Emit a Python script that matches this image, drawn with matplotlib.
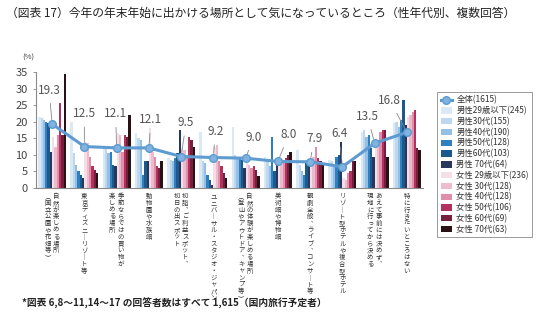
import matplotlib
matplotlib.use("Agg")
import matplotlib.pyplot as plt
import numpy as np

plt.rcParams['font.family'] = ['Noto Sans CJK JP', 'DejaVu Sans']

# Data (%)
categories = [
    ["自然が楽しめる場所", "（国立公園や花畑等）"],
    ["東京ディズニーリゾート等"],
    ["季節ならではの買い物が", "楽しめる場所"],
    ["動物園や水族館"],
    ["初詣、ご利益スポット、", "初日の出スポット"],
    ["ユニバーサル・スタジオ・ジャパン"],
    ["自然の体験が楽しめる場所", "（登山やアウトドア、キャンプ等）"],
    ["美術館や博物館"],
    ["観劇全般、ライブ、コンサート等"],
    ["リゾート型ホテルや複合型ホテル"],
    ["あえて事前には決めず、", "現地に行ってから決める"],
    ["特に行きたいところはない"],
]

total = [19.3, 12.5, 12.1, 12.1, 9.5, 9.2, 9.0, 8.0, 7.9, 6.4, 13.5, 16.8]
total_label = "全体(1615)"

series_labels = [
    "男性29歳以下(245)", "男性30代(155)", "男性40代(190)", "男性50代(128)",
    "男性60代(103)", "男性 70代(64)", "女性 29歳以下(236)", "女性 30代(128)",
    "女性 40代(128)", "女性 50代(106)", "女性 60代(69)", "女性 70代(63)",
]

m29 = [21.5, 20.0, 12.5, 16.5, 9.0, 17.0, 18.5, 9.5, 11.5, 8.5, 17.0, 19.5]
m30 = [21.0, 10.5, 12.0, 15.0, 8.5, 8.0, 10.0, 8.0, 7.0, 8.0, 17.5, 20.0]
m40 = [20.5, 7.0, 10.5, 14.5, 8.0, 7.5, 9.5, 6.5, 5.0, 7.0, 15.5, 18.5]
m50 = [20.0, 5.0, 11.0, 4.0, 9.0, 4.0, 9.0, 15.5, 4.0, 9.5, 16.0, 20.5]
m60 = [19.5, 4.0, 7.0, 8.0, 10.5, 2.5, 8.5, 5.0, 7.5, 10.0, 12.0, 26.5]
m70 = [11.0, 3.0, 6.5, 8.0, 17.5, 1.0, 6.0, 8.5, 8.0, 14.0, 9.5, 19.0]
f29 = [15.5, 14.0, 16.5, 18.0, 12.0, 12.5, 7.5, 7.0, 7.0, 3.0, 12.0, 21.5]
f30 = [12.5, 13.5, 16.0, 11.0, 11.5, 13.0, 7.0, 7.5, 9.5, 2.5, 12.5, 22.0]
f40 = [16.0, 9.5, 11.0, 9.5, 9.5, 8.0, 6.0, 8.0, 12.5, 4.5, 17.0, 23.0]
f50 = [25.5, 6.5, 16.0, 6.5, 15.5, 6.5, 6.5, 9.0, 9.0, 5.0, 17.5, 23.5]
f60 = [16.0, 5.5, 15.5, 6.0, 14.5, 4.5, 5.5, 10.0, 8.0, 8.0, 17.5, 12.0]
f70 = [34.5, 4.5, 22.0, 8.0, 12.5, 3.0, 3.5, 11.0, 7.5, 8.0, 9.5, 11.5]

series = [m29, m30, m40, m50, m60, m70, f29, f30, f40, f50, f60, f70]

colors = [
    "#dbe9f6", "#bcd7ee", "#93c0e4", "#2f7fc1", "#1c5a8c", "#27385e",
    "#f6dde6", "#ecbccc", "#df8fab", "#b5315d", "#74203c", "#2a1116",
]

# label offsets (px) for the total values: (dx, dy)
label_offsets = [(-3, 34), (0, 33), (-1, 34), (2, 28), (5, 34), (2, 26),
                 (8, 21), (11, 27), (4, 23), (-3, 33), (-7, 27), (-17, 32)]

PX = 72 / 100  # px -> points at dpi 100
VERT = {'ー': '｜', '（': '︵', '）': '︶', '、': '︑'}


def to_vertical(text):
    return "\n".join(VERT.get(ch, ch) for ch in text)


fig = plt.figure(figsize=(5.36, 3.26), dpi=100)
ax = fig.add_axes([36 / 536, 1 - 188 / 326, 387 / 536, 116 / 326])

x = np.arange(len(total))
w = 0.072
bars = []
for j, (vals, col, lab) in enumerate(zip(series, colors, series_labels)):
    b = ax.bar(x + (j - 5.5) * w, vals, width=w, color=col, label=lab, zorder=2)
    bars.append(b)

line, = ax.plot(x, total, color="#5d9bd0", lw=2.2, marker="o", markersize=5.5,
                markerfacecolor="#80b3df", markeredgecolor="#5d9bd0", label=total_label, zorder=4)

for i, v in enumerate(total):
    dx, dy = label_offsets[i]
    ax.annotate(f"{v}", xy=(i, v), xytext=(dx * PX, dy * PX), textcoords="offset points",
                ha="center", va="center", fontsize=8.5, color="#555555",
                arrowprops=dict(arrowstyle="-", color="#888888", lw=0.6, shrinkA=3, shrinkB=3),
                zorder=5)

# vertical (tategaki) category labels, one text per column
for i, cols in enumerate(categories):
    col_dx = [0] if len(cols) == 1 else [4, -4.5]
    for text, cdx in zip(cols, col_dx):
        ax.annotate(to_vertical(text), xy=(i, 0), xytext=(cdx * PX, -4 * PX),
                    textcoords="offset points", ha="center", va="top",
                    multialignment="center", fontsize=4.6, linespacing=0.8,
                    color="#333333", annotation_clip=False)

ax.set_xlim(-0.5, len(total) - 0.5)
ax.set_ylim(0, 35)
ax.set_yticks(np.arange(0, 36, 5))
ax.set_xticks([])
ax.tick_params(axis="y", labelsize=8, colors="#888888", labelcolor="#444444",
               length=2.5, width=0.6)
for s in ["top", "right"]:
    ax.spines[s].set_visible(False)
for s in ["left", "bottom"]:
    ax.spines[s].set_color("#8a8a8a")
    ax.spines[s].set_linewidth(0.8)

fig.text(22 / 536, 1 - 58 / 326, "(%)", fontsize=5.5, color="#444444", ha="left", va="center")

handles = [line] + bars
labels = [total_label] + series_labels
leg = fig.legend(handles, labels, loc="upper left", bbox_to_anchor=(433 / 536, 1 - 88 / 326),
                 fontsize=6, labelspacing=0.2, handlelength=1.4, handleheight=0.8,
                 handletextpad=0.5, borderpad=0.4, fancybox=False, framealpha=1)
leg.get_frame().set_edgecolor("#999999")
leg.get_frame().set_linewidth(0.7)
for t in leg.get_texts():
    t.set_color("#333333")

fig.text(6 / 536, 1 - 13 / 326,
         "（図表 17）今年の年末年始に出かける場所として気になっているところ（性年代別、複数回答）",
         fontsize=8.5, color="#222222", ha="left", va="center")
fig.text(22 / 536, 1 - 303 / 326,
         "*図表 6,8～11,14～17 の回答者数はすべて 1,615（国内旅行予定者）",
         fontsize=7.0, color="#222222", ha="left", va="center", fontweight="bold")

fig.savefig("out.png", dpi=100)
